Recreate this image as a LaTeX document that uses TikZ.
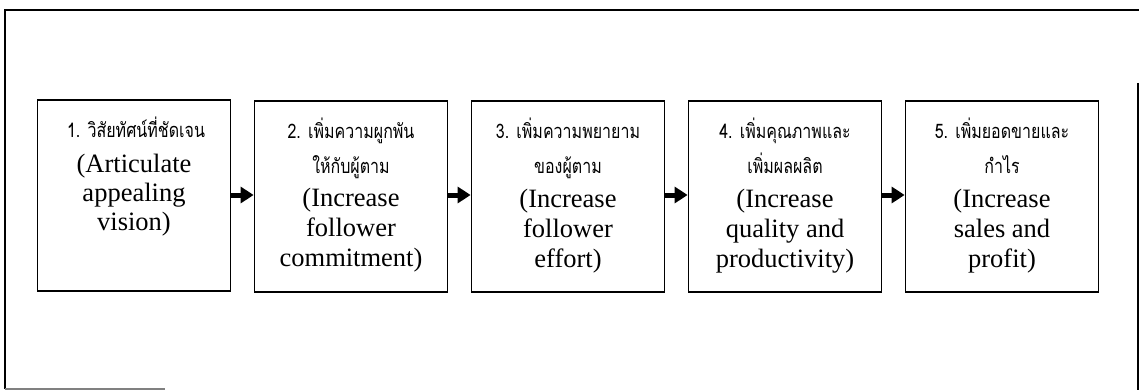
\documentclass[tikz,border=0pt]{standalone}
\usepackage{fontspec}
\setmainfont{Liberation Serif}
\newfontfamily\thaifont[Script=Thai,FakeStretch=0.8]{Loma}
\usetikzlibrary{arrows.meta}

\tikzset{
  stepbox/.style={draw, line width=1.8pt, minimum width=193pt, minimum height=191pt, inner sep=0pt},
  thline/.style={anchor=base, inner sep=0pt, font=\thaifont\fontsize{20}{22}\selectfont},
  enline/.style={anchor=base, inner sep=0pt, font=\fontsize{26.5}{30}\selectfont},
  flow/.style={line width=5pt, -{Triangle[length=13pt,width=16pt]}},
  frame/.style={line width=1.8pt}
}

\begin{document}
\begin{tikzpicture}[x=1pt,y=-1pt]
\useasboundingbox (0,0) rectangle (1139,390);

% outer frame
\coordinate (f1) at (5,10);
\coordinate (f2) at (1139,10);
\coordinate (f3) at (5,389);
\coordinate (f4) at (165,389);
\coordinate (f5) at (1138,83);
\coordinate (f6) at (1138,390);
\draw[frame] (f2) -- (f1) -- (f3);
\draw[frame, gray, line width=1.2pt] (f3) -- (f4);
\draw[frame] (f5) -- (f6);

% the five steps
\node[stepbox] (b1) at (134,195.5) {};
\node[stepbox] (b2) at (351,196.5) {};
\node[stepbox] (b3) at (568,196.5) {};
\node[stepbox] (b4) at (785,196.5) {};
\node[stepbox] (b5) at (1002,196.5) {};

% step 1
\node[thline] (t1a) at (136,138) {1. วิสัยทัศน์ที่ชัดเจน};
\node[enline] (e1a) at (134,172) {(Articulate};
\node[enline] (e1b) at (134,201) {appealing};
\node[enline] (e1c) at (134,230) {vision)};

% step 2
\node[thline] (t2a) at (351,139) {2. เพิ่มความผูกพัน};
\node[thline] (t2b) at (351,173) {ให้กับผู้ตาม};
\node[enline] (e2a) at (351,206) {(Increase};
\node[enline] (e2b) at (351,236) {follower};
\node[enline] (e2c) at (351,266) {commitment)};

% step 3
\node[thline] (t3a) at (568,139) {3. เพิ่มความพยายาม};
\node[thline] (t3b) at (568,173) {ของผู้ตาม};
\node[enline] (e3a) at (568,207) {(Increase};
\node[enline] (e3b) at (568,237) {follower};
\node[enline] (e3c) at (568,267) {effort)};

% step 4
\node[thline] (t4a) at (785,139) {4. เพิ่มคุณภาพและ};
\node[thline] (t4b) at (785,173) {เพิ่มผลผลิต};
\node[enline] (e4a) at (785,207) {(Increase};
\node[enline] (e4b) at (785,237) {quality and};
\node[enline] (e4c) at (785,267) {productivity)};

% step 5
\node[thline] (t5a) at (1002,139) {5. เพิ่มยอดขายและ};
\node[thline] (t5b) at (1002,173) {กำไร};
\node[enline] (e5a) at (1002,207) {(Increase};
\node[enline] (e5b) at (1002,237) {sales and};
\node[enline] (e5c) at (1002,267) {profit)};

% connectors
\draw[flow] (b1.east |- 0,195) -- (b2.west |- 0,195);
\draw[flow] (b2.east |- 0,195) -- (b3.west |- 0,195);
\draw[flow] (b3.east |- 0,195) -- (b4.west |- 0,195);
\draw[flow] (b4.east |- 0,195) -- (b5.west |- 0,195);
\end{tikzpicture}
\end{document}
